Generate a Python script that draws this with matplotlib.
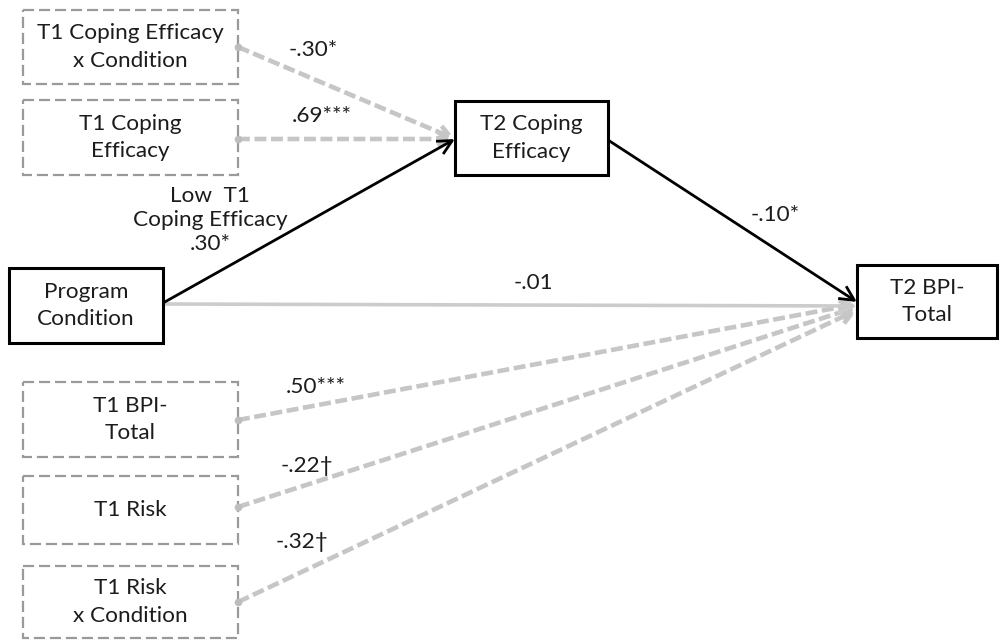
import matplotlib
matplotlib.use("Agg")
import matplotlib.pyplot as plt
from matplotlib.patches import Rectangle, FancyArrowPatch

plt.rcParams["font.family"] = ["Lato", "DejaVu Sans"]

# Model variables
observed = ["Program\nCondition", "T2 Coping\nEfficacy", "T2 BPI-\nTotal"]
covariates = ["T1 Coping Efficacy\nx Condition", "T1 Coping\nEfficacy",
              "T1 BPI-\nTotal", "T1 Risk", "T1 Risk\nx Condition"]

# Path coefficients
main_paths = ["Low  T1\nCoping Efficacy\n.30*", "-.10*", "-.01"]
cov_paths = ["-.30*", ".69***", ".50***", "-.22\u2020", "-.32\u2020"]

# Layout (pixel space, y downwards)
W, H = 1000, 641
obs_boxes = [(9, 268, 154, 75), (455, 101, 153, 74), (857, 265, 140, 73)]
cov_boxes = [(23, 10, 215, 74), (23, 100, 215, 75), (23, 382, 215, 75),
             (23, 476, 215, 68), (23, 566, 215, 72)]

fig = plt.figure(figsize=(W / 100, H / 100), dpi=100)
ax = fig.add_axes([0, 0, 1, 1])
ax.set_xlim(0, W)
ax.set_ylim(H, 0)
ax.axis("off")

TXT = "#1c1c1c"
GRAY = "#c6c6c6"
FS = 16.2
LS = 1.45

for (x, y, w, h), label in zip(obs_boxes, observed):
    ax.add_patch(Rectangle((x, y), w, h, fill=False, ec="black", lw=2.2, zorder=3))
    ax.text(x + w / 2, y + h / 2, label, ha="center", va="center",
            fontsize=FS, color=TXT, linespacing=LS, zorder=4)

for (x, y, w, h), label in zip(cov_boxes, covariates):
    ax.add_patch(Rectangle((x, y), w, h, fill=False, ec="#9a9a9a", lw=1.6,
                           ls=(0, (5, 2.2)), zorder=3))
    ax.text(x + w / 2, y + h / 2, label, ha="center", va="center",
            fontsize=FS, color=TXT, linespacing=LS, zorder=4)


def arrow(p0, p1, color, lw, ls="-", z=2, head=(7, 3.5)):
    a = FancyArrowPatch(p0, p1,
                        arrowstyle=f"->,head_length={head[0]},head_width={head[1]}",
                        color=color, lw=lw, ls=ls, shrinkA=0, shrinkB=0,
                        mutation_scale=1.5, zorder=z, capstyle="butt")
    ax.add_patch(a)


# Covariate paths (dashed gray, dot at origin)
t2ce_in = (455, 139)
cov_starts = [(238, 47), (238, 139), (238, 420), (238, 507), (238, 602)]
cov_ends = [t2ce_in, t2ce_in, (857, 304), (857, 307), (857, 310)]
for s, e in zip(cov_starts, cov_ends):
    arrow(s, e, GRAY, 3.3, ls=(0, (2.6, 1.0)), z=1, head=(6, 3.2))
    ax.plot(*s, "o", ms=5.5, color="#bdbdbd", mec="none", zorder=5)

# Main paths
arrow((163, 304), (857, 306), "#cccccc", 2.6, z=1.5)
arrow((163, 303), (455, 139), "black", 2.0, z=2.5)
arrow((608, 140), (857, 302), "black", 2.0, z=2.5)

# Coefficient labels
ax.text(210, 220, main_paths[0], ha="center", va="center", fontsize=FS,
        color=TXT, linespacing=1.22)
ax.text(775, 215, main_paths[1], ha="center", va="center", fontsize=FS, color=TXT)
ax.text(533, 283, main_paths[2], ha="center", va="center", fontsize=FS, color=TXT)

cov_label_pos = [(313, 50), (322, 116), (316, 387), (307, 466), (302, 542)]
for (x, y), lab in zip(cov_label_pos, cov_paths):
    ax.text(x, y, lab, ha="center", va="center", fontsize=FS, color=TXT)

fig.savefig("out.png", dpi=100, facecolor="white")
